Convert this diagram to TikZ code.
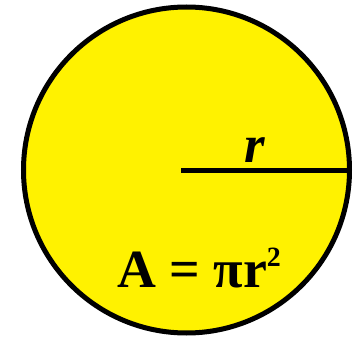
\documentclass[tikz,border=0pt]{standalone}
\usepackage{fontspec}
\setmainfont{Liberation Serif}
\begin{document}
\begin{tikzpicture}[x=1bp,y=1bp,
  disc/.style={draw=black,fill=yellow,line width=5bp},
  radline/.style={draw=black,line width=5.5bp},
  lbl/.style={inner sep=0pt,anchor=base,font=\bfseries}]
\useasboundingbox (0,0) rectangle (354,337);
\coordinate (c) at (186.5,167);
\node[disc,circle,minimum size=326bp,inner sep=0pt] (circ) at (c) {};
\coordinate (start) at (181,166.5);
\draw[radline] (start) -- (circ.east |- start);
\node[lbl] (r) at (254.5,174.5) {\fontsize{53}{60}\selectfont\itshape r};
\node[lbl] (area) at (199,50) {\fontsize{54}{60}\selectfont A = πr\raisebox{21bp}{\fontsize{28}{30}\selectfont 2}};
\end{tikzpicture}
\end{document}
